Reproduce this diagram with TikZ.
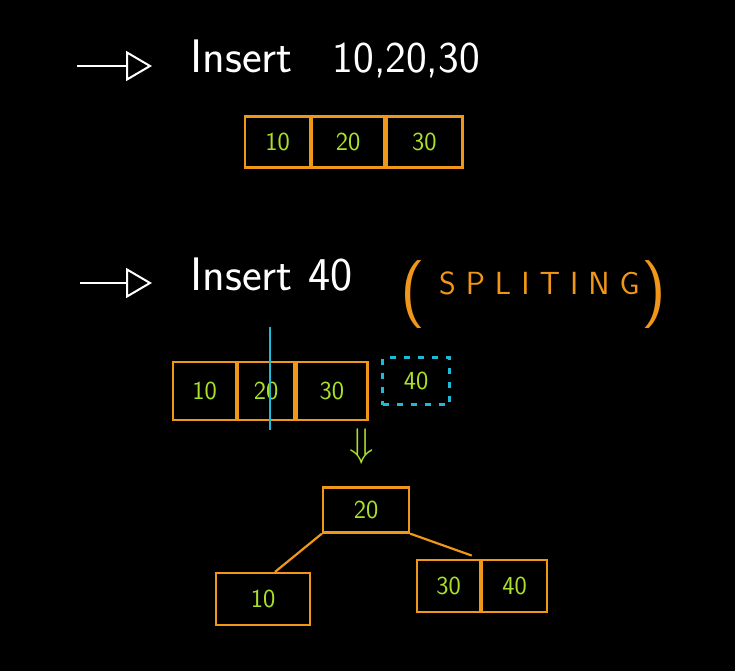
\documentclass[tikz,border=0pt]{standalone}
\usetikzlibrary{positioning,arrows.meta,calc}
\definecolor{chalkorange}{RGB}{240,150,25}
\definecolor{chalkgreen}{RGB}{170,225,40}
\definecolor{chalkcyan}{RGB}{30,185,215}
\tikzset{main base/.style={draw=chalkorange,line width=2.2pt,text=chalkgreen,
    font=\sffamily\fontsize{26}{26}\selectfont,inner sep=0pt}, }
\tikzset{cell/.style={rectangle,main base,minimum width=#1}, }
\tikzset{linea/.style={draw=chalkorange,line width=2.2pt}}
\tikzset{pointer/.style={draw=white,line width=2pt,
    -{Triangle[open,length=26pt,width=30pt]}}}
\tikzset{title/.style={text=white,font=\sffamily\fontsize{47}{47}\selectfont,
    anchor=base west,inner sep=0pt}, }
\begin{document}
\begin{tikzpicture}[x=1pt,y=-1pt]
  \fill[black] (0,0) rectangle (735,671);
  \useasboundingbox (0,0) rectangle (735,671);
  % first step
  \coordinate (p1) at (77,66);
  \node[title] (t1) at (190,73) {Insert\kern40pt{\fontsize{44}{44}\selectfont 10,20,30}};
  \draw[pointer] (p1) -- ([xshift=-38pt]t1.west |- p1);
  \node[cell=65pt,minimum height=51pt] (a1) at (277.5,142) {10};
  \node[cell=72pt,minimum height=51pt] (a2) [right=0pt of a1] {20};
  \node[cell=76pt,minimum height=51pt] (a3) [right=0pt of a2] {30};
  % second step
  \coordinate (p2) at (80,283);
  \node[title] (t2) at (190,290) {Insert\kern16pt 40};
  \draw[pointer] (p2) -- ([xshift=-38pt]t2.west |- p2);
  \node[anchor=base west,inner sep=0pt,text=chalkorange,font=\sffamily] (t3) at (400,311)
    {{\fontsize{68}{68}\selectfont(}\kern14pt\raisebox{17pt}{\fontsize{32}{32}\selectfont
     S\kern10pt P\kern10pt L\kern10pt I\kern10pt T\kern10pt I\kern10pt N\kern10pt G}\kern2pt{\fontsize{68}{68}\selectfont)}};
  \node[cell=63pt,minimum height=58pt] (b1) at (204.5,391) {10};
  \node[cell=56pt,minimum height=58pt] (b2) [right=0pt of b1] {20};
  \node[cell=71pt,minimum height=58pt] (b3) [right=0pt of b2] {30};
  \node[cell=67pt,minimum height=47pt,draw=chalkcyan,dash pattern=on 6pt off 8pt] (new) at (416,381) {40};
  \coordinate (cut top) at (270,327);
  \coordinate (cut bot) at (270,430);
  \draw[chalkcyan,line width=2.2pt] (cut top) -- (cut bot);
  \node[text=chalkgreen] (down) at (362,446) {\scalebox{4}{$\Downarrow$}};
  % resulting tree
  \node[cell=86pt,minimum height=45pt] (n20) at (366,510) {20};
  \node[cell=94pt,minimum height=52pt] (n10) at (263,599) {10};
  \node[cell=63pt,minimum height=52pt] (r1) at (448.5,586) {30};
  \node[cell=65pt,minimum height=52pt] (r2) [right=0pt of r1] {40};
  \draw[linea] (n20.south west) -- ($(n10.north)!0.25!(n10.north east)$);
  \draw[linea,shorten >=10pt] (n20.south east) -- (r1.north east);
\end{tikzpicture}
\end{document}
